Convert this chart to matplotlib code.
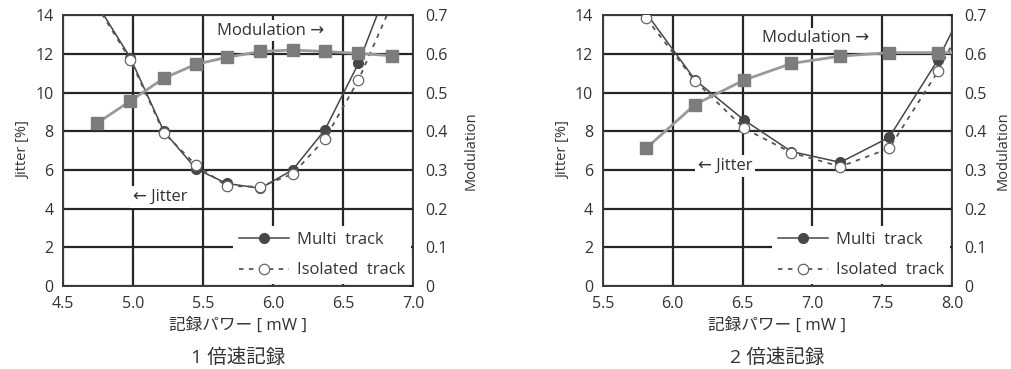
import numpy as np
import matplotlib
matplotlib.use("Agg")
import matplotlib.pyplot as plt

plt.rcParams['font.family'] = ['Open Sans', 'DejaVu Sans', 'Noto Sans CJK JP']

# --- data: 1x speed recording
power1 = [4.74, 4.98, 5.22, 5.45, 5.67, 5.91, 6.14, 6.37, 6.61, 6.85]
mod1 = [0.42, 0.478, 0.537, 0.573, 0.591, 0.606, 0.61, 0.606, 0.601, 0.595]
multi1 = [14.6, 11.8, 8.0, 6.05, 5.3, 5.05, 6.0, 8.06, 11.5, 16.0]
iso1 = [14.5, 11.7, 7.92, 6.25, 5.17, 5.13, 5.79, 7.58, 10.64, 14.6]

# --- data: 2x speed recording
power2 = [5.81, 6.16, 6.51, 6.85, 7.20, 7.55, 7.90, 8.25]
mod2 = [0.356, 0.469, 0.532, 0.575, 0.594, 0.603, 0.603, 0.603]
multi2 = [14.1, 10.65, 8.58, 6.95, 6.39, 7.68, 11.7, 16.8]
iso2 = [13.83, 10.6, 8.15, 6.89, 6.17, 7.11, 11.1, 15.9]

jit_ticks = [0, 2, 4, 6, 8, 10, 12, 14]
mod_ticks = [0, 0.1, 0.2, 0.3, 0.4, 0.5, 0.6, 0.7]
mod_labels = ["0", "0.1", "0.2", "0.3", "0.4", "0.5", "0.6", "0.7"]

gridc = '#262626'
tc = '#333333'
fs = 11.5

fig = plt.figure(figsize=(10.12, 3.69), dpi=100)


def panel(rect, x, mod, multi, iso, xlim, xticks, title, modtxt, jittxt, mpad):
    ax = fig.add_axes(rect)
    ax.set_axisbelow(True)
    ax.set_xlim(xlim)
    ax.set_ylim(0, 14)
    ax.set_xticks(xticks)
    ax.set_xticklabels(["%.1f" % t for t in xticks])
    ax.set_yticks(jit_ticks)
    ax.grid(True, color=gridc, lw=1.6)
    ax.tick_params(direction='in', length=3, width=1.2, color=gridc,
                   labelsize=fs, labelcolor=tc, pad=7)
    for s in ax.spines.values():
        s.set_color('#3a3a3a')
        s.set_linewidth(1.4)

    l1, = ax.plot(x, multi, '-', color='#474747', lw=1.1, marker='o', ms=7,
                  mfc='#474747', mec='#474747', zorder=3, label="Multi  track")
    l2, = ax.plot(x, iso, color='#555555', lw=1.3, ls=(0, (2.5, 3)), marker='o', ms=7.5,
                  mfc='white', mec='#666666', mew=0.9, zorder=4, label="Isolated  track")

    ax.set_ylabel("Jitter [%]", fontsize=10.5, color=tc, labelpad=3)
    ax.set_xlabel("記録パワー [ mW ]", fontsize=12, color=tc, labelpad=4)

    bb = dict(facecolor='white', edgecolor='none', pad=2)
    ax.text(modtxt[0], modtxt[1], "Modulation →", fontsize=12, color=tc,
            va='center', ha='left', bbox=bb, zorder=1.5)
    ax.text(jittxt[0], jittxt[1], "← Jitter", fontsize=12, color=tc,
            va='center', ha='left', bbox=bb, zorder=1.5)

    ax2 = ax.twinx()
    ax2.set_ylim(0, 0.7)
    ax2.set_yticks(mod_ticks)
    ax2.set_yticklabels(mod_labels)
    ax2.tick_params(direction='in', length=3, width=1.2, color=gridc,
                    labelsize=fs, labelcolor=tc, pad=9)
    for s in ax2.spines.values():
        s.set_visible(False)
    ax2.plot(x, mod, '-', color='#9a9a9a', lw=2, marker='s', ms=8,
             mfc='#7c7c7c', mec='#7c7c7c', zorder=3)
    ax2.set_ylabel("Modulation", fontsize=10.5, color=tc, labelpad=mpad)

    leg = ax2.legend([l1, l2], [l1.get_label(), l2.get_label()], loc='lower right',
                     fontsize=12, frameon=True, fancybox=False, framealpha=1,
                     handlelength=3.0, handletextpad=0.5, labelspacing=0.85,
                     borderpad=0.35, borderaxespad=0.1)
    leg.get_frame().set_facecolor('white')
    leg.get_frame().set_edgecolor('none')
    for t in leg.get_texts():
        t.set_color(tc)

    fig.text(rect[0] + rect[2] / 2, 0.03, title, ha='center', va='center',
             fontsize=14, color=tc)
    return ax


panel([0.0623, 0.225, 0.3458, 0.734], power1, mod1, multi1, iso1,
      (4.5, 7.0), [4.5, 5.0, 5.5, 6.0, 6.5, 7.0], "1 倍速記録",
      (5.6, 13.2), (5.0, 4.6), 11)
panel([0.5958, 0.225, 0.3449, 0.734], power2, mod2, multi2, iso2,
      (5.5, 8.0), [5.5, 6.0, 6.5, 7.0, 7.5, 8.0], "2 倍速記録",
      (6.64, 12.8), (6.18, 6.2), 6)

fig.savefig("out.png", dpi=100)
